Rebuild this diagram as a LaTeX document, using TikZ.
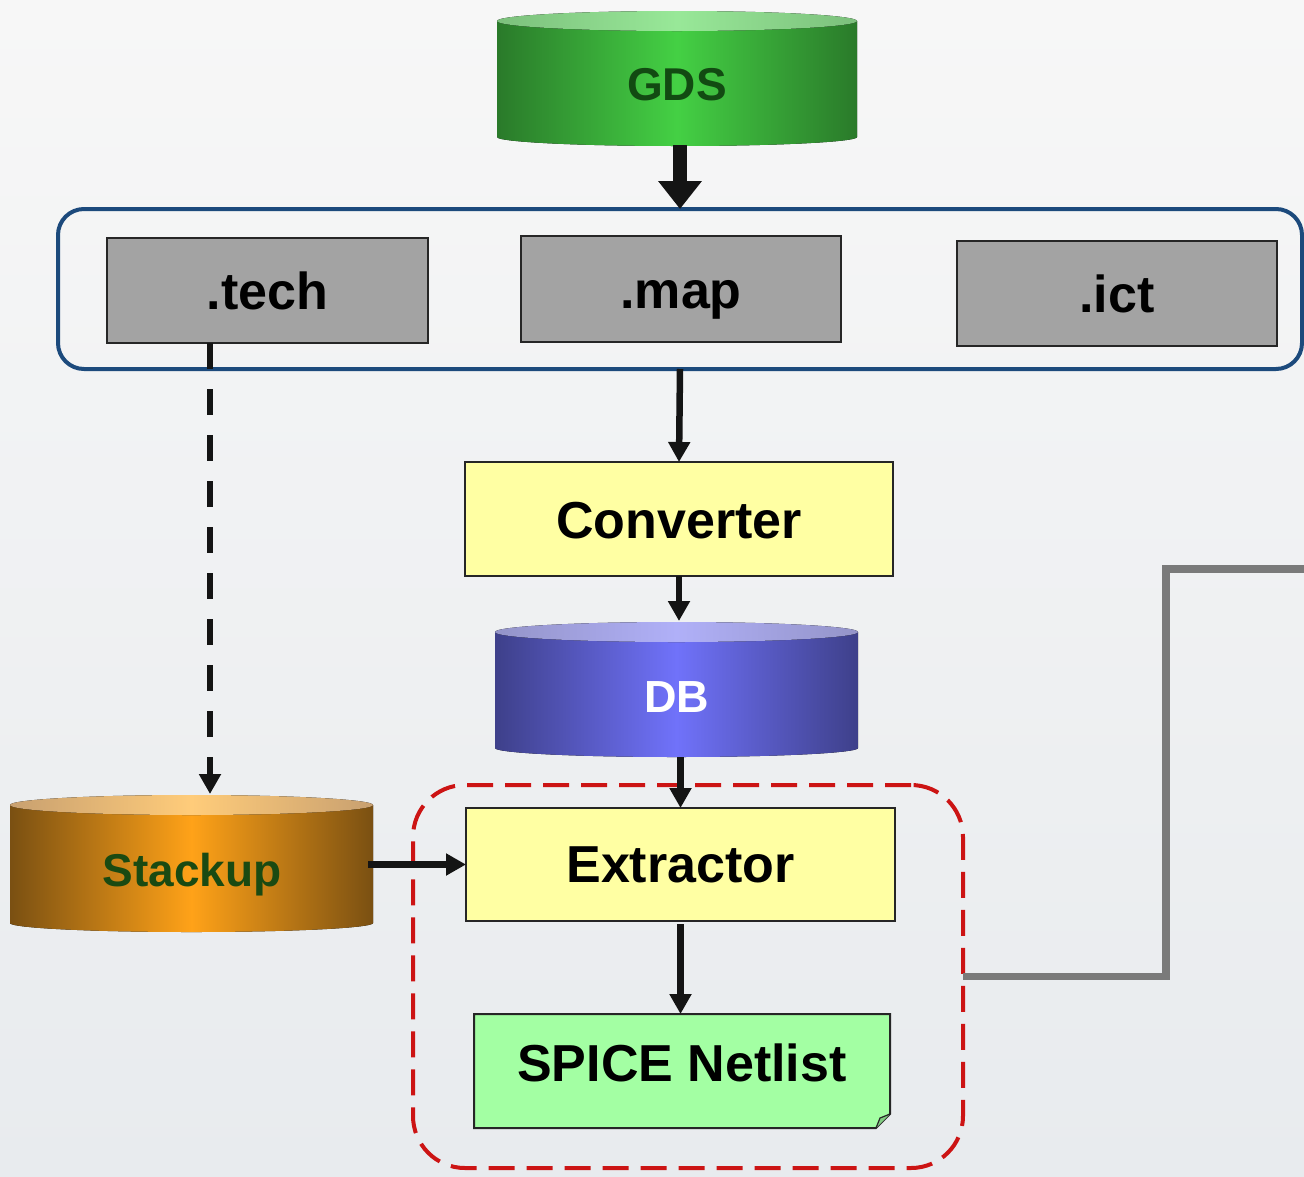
\documentclass[tikz,border=0pt]{standalone}
\usepackage{fontspec}
\setmainfont{Liberation Sans}
\usetikzlibrary{arrows.meta,calc}
\definecolor{grayfill}{HTML}{A3A3A3}
\definecolor{yellowfill}{HTML}{FFFFA3}
\definecolor{greenfill}{HTML}{A3FFA3}
\definecolor{groupblue}{HTML}{1C4A7C}
\definecolor{redline}{HTML}{CC1414}
\definecolor{gdsdark}{HTML}{2A7A2A}
\definecolor{gdsmid}{HTML}{44D044}
\definecolor{gdstopd}{HTML}{7CC07C}
\definecolor{gdstopm}{HTML}{98E898}
\definecolor{gdstext}{HTML}{124A12}
\definecolor{dbdark}{HTML}{3E408A}
\definecolor{dbmid}{HTML}{7072FA}
\definecolor{dbtopd}{HTML}{9494C8}
\definecolor{dbtopm}{HTML}{B0B0F8}
\definecolor{stdark}{HTML}{7A5012}
\definecolor{stmid}{HTML}{FFA218}
\definecolor{sttopd}{HTML}{C8A070}
\definecolor{sttopm}{HTML}{FFCC7A}
\definecolor{sttext}{HTML}{1A4A12}
\definecolor{bgtop}{HTML}{F7F7F7}
\definecolor{bgbot}{HTML}{E8EBEE}
\definecolor{wire}{HTML}{7A7A7A}
\tikzset{
  ghost/.style={inner sep=0pt, outer sep=0pt, draw=none},
  filebox/.style={ghost, draw=black!85, line width=2pt, fill=grayfill},
  procbox/.style={ghost, draw=black!85, line width=2pt, fill=yellowfill},
  label52/.style={font=\bfseries\fontsize{52}{56}\selectfont, anchor=base, inner sep=0pt},
  label45/.style={font=\bfseries\fontsize{46}{50}\selectfont, anchor=base, inner sep=0pt},
  arr/.style={draw=black!92, line width=6.5pt, -{Triangle[length=20pt,width=21pt]}},
  bigarr/.style={draw=black!92, line width=14pt, -{Triangle[length=28pt,width=42pt]}},
  dasharr/.style={draw=black!92, line width=6.5pt, dash pattern=on 26pt off 20pt, -{Triangle[length=20pt,width=21pt]}},
}
\begin{document}
\begin{tikzpicture}[x=1pt,y=-1pt]
\useasboundingbox (0,0) rectangle (1304,1176);
\fill[top color=bgtop, bottom color=bgbot] (0,0) rectangle (1304,1176);

% group box
\node[ghost, draw=groupblue, line width=4pt, rounded corners=26pt, minimum width=1244pt, minimum height=160pt] (group) at (680,289) {};
% red dashed box
\node[ghost, draw=redline, line width=4pt, dash pattern=on 26pt off 12pt, rounded corners=52pt, minimum width=550pt, minimum height=383pt] (red) at (688,976.5) {};

% GDS cylinder
\node[ghost, minimum width=360pt, minimum height=136pt] (gds) at (677,79) {};
\fill[left color=gdsdark, right color=gdsdark, middle color=gdsmid]
  (497,21) -- (497,137) arc[start angle=180, end angle=360, x radius=180pt, y radius=9pt] -- (857,21) -- cycle;
\fill[left color=gdstopd, right color=gdstopd, middle color=gdstopm] (677,21) ellipse[x radius=180pt, y radius=10pt];

% DB cylinder
\node[ghost, minimum width=363pt, minimum height=136pt] (db) at (676.5,689) {};
\fill[left color=dbdark, right color=dbdark, middle color=dbmid]
  (495,632) -- (495,748) arc[start angle=180, end angle=360, x radius=181.5pt, y radius=9pt] -- (858,632) -- cycle;
\fill[left color=dbtopd, right color=dbtopd, middle color=dbtopm] (676.5,632) ellipse[x radius=181.5pt, y radius=10pt];

% Stackup cylinder
\node[ghost, minimum width=363pt, minimum height=138pt] (stack) at (191.5,863) {};
\fill[left color=stdark, right color=stdark, middle color=stmid]
  (10,805) -- (10,923) arc[start angle=180, end angle=360, x radius=181.5pt, y radius=9pt] -- (373,805) -- cycle;
\fill[left color=sttopd, right color=sttopd, middle color=sttopm] (191.5,805) ellipse[x radius=181.5pt, y radius=10pt];

% file boxes
\node[filebox, minimum width=321pt, minimum height=105pt] (tech) at (267.5,290.5) {};
\node[filebox, minimum width=320pt, minimum height=106pt] (map) at (681,289) {};
\node[filebox, minimum width=320pt, minimum height=105pt] (ict) at (1117,293.5) {};

% process boxes
\node[procbox, minimum width=428pt, minimum height=114pt] (conv) at (679,519) {};
\node[procbox, minimum width=429pt, minimum height=113pt] (extr) at (680.5,864.5) {};

% SPICE netlist (document with folded corner)
\node[ghost, minimum width=416pt, minimum height=114pt] (spice) at (682,1071) {};
\filldraw[fill=greenfill, draw=black!85, line width=2pt, line join=miter]
  (spice.north west) -- (spice.north east) -- ($(spice.south east)+(0,-14)$) -- ($(spice.south east)+(-14,0)$) -- (spice.south west) -- cycle;
\filldraw[fill=greenfill!80!black, draw=black!85, line width=1.2pt]
  ($(spice.south east)+(0,-14)$) -- ($(spice.south east)+(-10,-10)$) -- ($(spice.south east)+(-14,0)$);

% connectors
\coordinate (dropx) at (210,0);
\coordinate (grayx) at (1166,0);
\coordinate (grayend) at (1304,569);
\draw[bigarr] (gds.south -| group.north) ++(0,-2) -- (group.north);
\draw[arr] (group.south) -- (conv.north);
\draw[arr] (conv.south) -- (db.north -| conv.south);
\draw[arr] (db.south -| extr.north) -- (extr.north);
\draw[arr] (extr.south) ++(0,3) -- (spice.north -| extr.south);
\draw[arr] (stack.east |- extr.west) ++(-5,0) -- (extr.west);
\draw[dasharr] (tech.south -| dropx) -- (stack.north -| dropx);
\draw[wire, line width=7.5pt, line join=miter] (red.east) -- (red.east -| grayx) -- (grayx |- grayend) -- (grayend);

% texts
\node[label45, text=gdstext] (gdst) at (677,100) {GDS};
\node[label45, text=white, font=\bfseries\fontsize{45}{50}\selectfont] (dbt) at (676.5,712) {DB};
\node[label45, text=sttext] (stackt) at (192,886) {Stackup};
\node[label52] (techt) at (267.5,309) {.tech};
\node[label52] (mapt) at (681,308) {.map};
\node[label52] (ictt) at (1117,312) {.ict};
\node[label52] (convt) at (679,538) {Converter};
\node[label52] (extrt) at (680.5,882) {Extractor};
\node[label52] (spicet) at (682,1081) {SPICE Netlist};
\end{tikzpicture}
\end{document}
